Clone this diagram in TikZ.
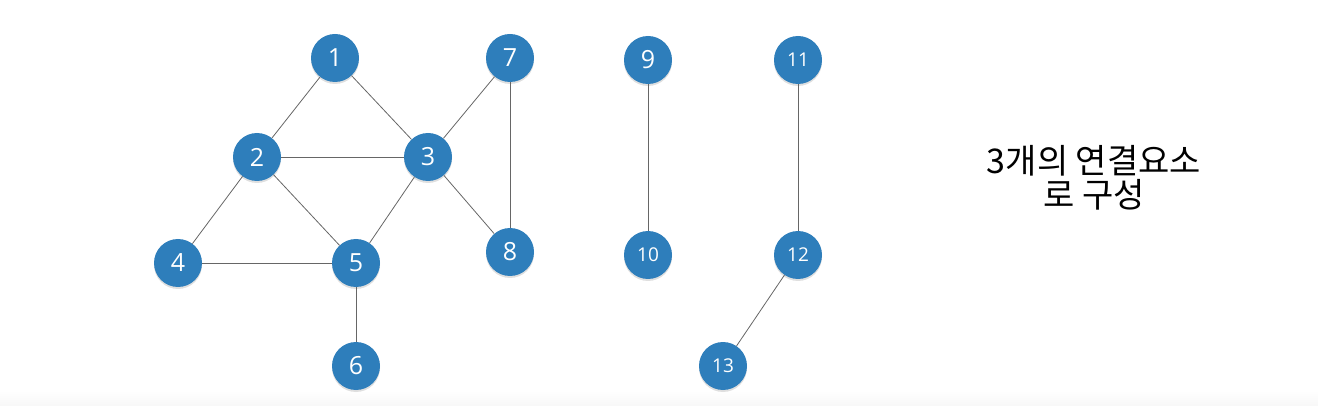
\documentclass[tikz,border=0pt]{standalone}
\usepackage{fontspec}
\setmainfont{Open Sans}
\newfontfamily\krfont{Noto Sans CJK KR}
\usetikzlibrary{shadows}
\definecolor{vblue}{HTML}{2E7EBB}
\tikzset{
  vertex/.style={circle, fill=vblue, text=white, minimum size=48pt, inner sep=0pt,
    font=\fontsize{25}{25}\selectfont, drop shadow={shadow xshift=0pt, shadow yshift=-2pt, opacity=0.25}},
  smallv/.style={vertex, font=\fontsize{19}{19}\selectfont},
  edge/.style={draw=black!60, line width=0.8pt}
}
\begin{document}
\begin{tikzpicture}[x=1pt,y=-1pt]
\useasboundingbox (0,0) rectangle (1318,406);
% light strip at the bottom
\shade[top color=white, bottom color=black!3] (0,390) rectangle (1318,406);

% first component
\node[vertex] (v1) at (335,58) {1};
\node[vertex] (v2) at (257,157) {2};
\node[vertex] (v3) at (428,157) {3};
\node[vertex] (v4) at (178,263) {4};
\node[vertex] (v5) at (356,263) {5};
\node[vertex] (v6) at (356,366) {6};
\node[vertex] (v7) at (510,58) {7};
\node[vertex] (v8) at (510,252) {8};

% second component
\node[vertex] (v9) at (648,60) {9};
\node[smallv] (v10) at (648,255) {10};

% third component
\node[smallv] (v11) at (798,60) {11};
\node[smallv] (v12) at (798,255) {12};
\node[smallv] (v13) at (723,366) {13};

% edges
\path[edge] (v1) -- (v2);
\path[edge] (v1) -- (v3);
\path[edge] (v2) -- (v3);
\path[edge] (v2) -- (v4);
\path[edge] (v2) -- (v5);
\path[edge] (v3) -- (v5);
\path[edge] (v3) -- (v7);
\path[edge] (v3) -- (v8);
\path[edge] (v7) -- (v8);
\path[edge] (v4) -- (v5);
\path[edge] (v5) -- (v6);
\path[edge] (v9) -- (v10);
\path[edge] (v11) -- (v12);
\path[edge] (v12) -- (v13);

% caption
\node[align=center, font=\krfont\fontsize{34}{34}\selectfont] (cap) at (1094,178) {3개의 연결요소\\로 구성};
\end{tikzpicture}
\end{document}
